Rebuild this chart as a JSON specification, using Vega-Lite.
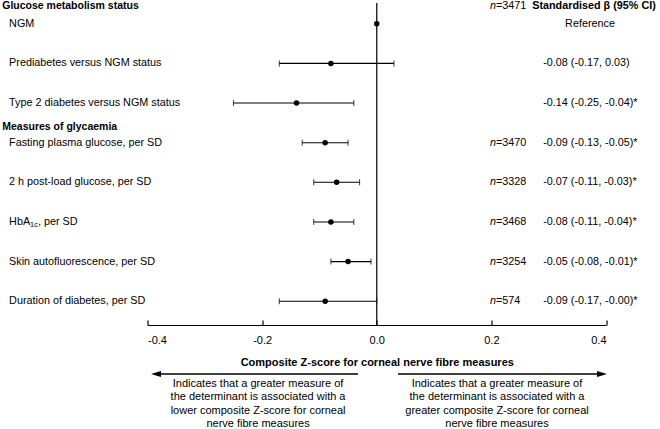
{
  "$schema": "https://vega.github.io/schema/vega-lite/v6.json",
  "width": 458.5,
  "height": 325,
  "autosize": {"type": "none"},
  "padding": {"left": 147.5, "top": 0, "right": 54, "bottom": 104},
  "background": "white",
  "config": {
    "view": {"stroke": null},
    "text": {"font": "Liberation Sans", "fontSize": 10.8, "color": "#000"}
  },
  "datasets": {
    "rows": [
      {"kind": "header", "row": 0.55, "label": "Glucose metabolism status", "n": "3471"},
      {"kind": "item", "row": 1, "label": "NGM", "beta": 0, "est": "Reference"},
      {"kind": "item", "row": 2, "label": "Prediabetes versus NGM status", "beta": -0.08, "lo": -0.17, "hi": 0.03, "est": "-0.08 (-0.17, 0.03)"},
      {"kind": "item", "row": 3, "label": "Type 2 diabetes versus NGM status", "beta": -0.14, "lo": -0.25, "hi": -0.04, "est": "-0.14 (-0.25, -0.04)*"},
      {"kind": "header", "row": 3.6, "label": "Measures of glycaemia"},
      {"kind": "item", "row": 4, "label": "Fasting plasma glucose, per SD", "beta": -0.09, "lo": -0.13, "hi": -0.05, "n": "3470", "est": "-0.09 (-0.13, -0.05)*"},
      {"kind": "item", "row": 5, "label": "2 h post-load glucose, per SD", "beta": -0.07, "lo": -0.11, "hi": -0.03, "n": "3328", "est": "-0.07 (-0.11, -0.03)*"},
      {"kind": "item", "row": 6, "label": "HbA", "sub": "1c", "suffix": ", per SD", "beta": -0.08, "lo": -0.11, "hi": -0.04, "n": "3468", "est": "-0.08 (-0.11, -0.04)*"},
      {"kind": "item", "row": 7, "label": "Skin autofluorescence, per SD", "beta": -0.05, "lo": -0.08, "hi": -0.01, "n": "3254", "est": "-0.05 (-0.08, -0.01)*"},
      {"kind": "item", "row": 8, "label": "Duration of diabetes, per SD", "beta": -0.09, "lo": -0.17, "hi": 0.0, "n": "574", "est": "-0.09 (-0.17, -0.00)*"}
    ]
  },
  "data": {"name": "rows"},
  "encoding": {
    "y": {"field": "row", "type": "quantitative", "scale": {"domain": [0.4, 8.6], "reverse": true, "nice": false, "zero": false}, "axis": null}
  },
  "layer": [
    {
      "transform": [{"filter": "isValid(datum.lo)"}],
      "mark": {"type": "errorbar", "color": "#000", "thickness": 1.1, "ticks": {"size": 6, "thickness": 1.1, "color": "#000"}},
      "encoding": {
        "x": {
          "field": "lo", "type": "quantitative",
          "scale": {"domain": [-0.4, 0.4], "nice": false, "zero": false},
          "axis": {
            "title": "Composite Z-score for corneal nerve fibre measures",
            "values": [-0.4, -0.2, 0, 0.2, 0.4],
            "labelExpr": "datum.value < 0 ? '-' + format(-datum.value, '.1f') : format(datum.value, '.1f')",
            "grid": false,
            "domainColor": "#000", "domainWidth": 1.2,
            "tickColor": "#000", "tickWidth": 1.2, "tickSize": -5,
            "labelPadding": 14, "labelFont": "Liberation Sans", "labelFontSize": 11, "labelColor": "#000",
            "titleFont": "Liberation Sans", "titleFontSize": 11, "titleFontWeight": "bold", "titleColor": "#000", "titlePadding": 11
          }
        },
        "x2": {"field": "hi"}
      }
    },
    {
      "transform": [{"filter": "datum.row == 1"}],
      "mark": {"type": "rule", "color": "#111", "strokeWidth": 1.3},
      "encoding": {"x": {"datum": 0}, "y": {"datum": 0.476}, "y2": {"datum": 8.6}}
    },
    {
      "transform": [{"filter": "isValid(datum.beta)"}],
      "mark": {"type": "point", "filled": true, "color": "#000", "opacity": 1, "size": 30},
      "encoding": {"x": {"field": "beta", "type": "quantitative"}}
    },
    {
      "transform": [{"filter": "datum.kind == 'header'"}],
      "mark": {"type": "text", "align": "left", "baseline": "middle", "fontWeight": "bold", "fontSize": 10.5},
      "encoding": {"x": {"datum": -0.6535}, "text": {"field": "label"}}
    },
    {
      "transform": [{"filter": "datum.kind == 'item'"}],
      "mark": {"type": "text", "align": "left", "baseline": "middle"},
      "encoding": {"x": {"datum": -0.6415}, "text": {"field": "label"}}
    },
    {
      "transform": [{"filter": "datum.sub"}],
      "mark": {"type": "text", "align": "left", "baseline": "middle", "fontSize": 7.4, "dx": 21.0, "dy": 3},
      "encoding": {"x": {"datum": -0.6415}, "text": {"field": "sub"}}
    },
    {
      "transform": [{"filter": "datum.suffix"}],
      "mark": {"type": "text", "align": "left", "baseline": "middle", "dx": 28.8},
      "encoding": {"x": {"datum": -0.6415}, "text": {"field": "suffix"}}
    },
    {
      "transform": [{"filter": "datum.n"}],
      "mark": {"type": "text", "align": "left", "baseline": "middle", "fontStyle": "italic", "text": "n"},
      "encoding": {"x": {"datum": 0.1976}}
    },
    {
      "transform": [{"filter": "datum.n"}],
      "mark": {"type": "text", "align": "left", "baseline": "middle", "text": "=", "dx": 6.0},
      "encoding": {"x": {"datum": 0.1976}}
    },
    {
      "transform": [{"filter": "datum.n"}],
      "mark": {"type": "text", "align": "left", "baseline": "middle", "dx": 12.3},
      "encoding": {"x": {"datum": 0.1976}, "text": {"field": "n"}}
    },
    {
      "transform": [{"filter": "datum.est && datum.est != 'Reference'"}],
      "mark": {"type": "text", "align": "left", "baseline": "middle"},
      "encoding": {"x": {"datum": 0.2905}, "text": {"field": "est"}}
    },
    {
      "transform": [{"filter": "datum.est == 'Reference'"}],
      "mark": {"type": "text", "align": "center", "baseline": "middle"},
      "encoding": {"x": {"datum": 0.3721}, "text": {"field": "est"}}
    },
    {
      "transform": [{"filter": "datum.row == 1"}],
      "mark": {"type": "text", "align": "center", "baseline": "middle", "fontWeight": "bold", "fontSize": 10.8, "text": "Standardised β (95% CI)"},
      "encoding": {"x": {"datum": 0.3791}, "y": {"datum": 0.55}}
    },
    {
      "transform": [{"filter": "datum.row == 1"}],
      "mark": {"type": "rule", "color": "#000", "strokeWidth": 1.3},
      "encoding": {"x": {"datum": -0.0327}, "x2": {"datum": -0.3852}, "y": {"datum": 9.836}}
    },
    {
      "transform": [{"filter": "datum.row == 1"}],
      "mark": {"type": "rule", "color": "#000", "strokeWidth": 1.3},
      "encoding": {"x": {"datum": 0.0371}, "x2": {"datum": 0.393}, "y": {"datum": 9.836}}
    },
    {
      "transform": [{"filter": "datum.row == 1"}],
      "mark": {"type": "point", "filled": true, "color": "#000", "opacity": 1, "size": 100, "strokeWidth": 0, "shape": "M -1 0 L 1 -0.6 L 1 0.6 Z"},
      "encoding": {"x": {"datum": -0.3852}, "y": {"datum": 9.836}}
    },
    {
      "transform": [{"filter": "datum.row == 1"}],
      "mark": {"type": "point", "filled": true, "color": "#000", "opacity": 1, "size": 100, "strokeWidth": 0, "shape": "M 1 0 L -1 -0.6 L -1 0.6 Z"},
      "encoding": {"x": {"datum": 0.393}, "y": {"datum": 9.836}}
    },
    {
      "transform": [{"filter": "datum.row == 1"}],
      "mark": {"type": "text", "align": "center", "baseline": "top", "fontSize": 11, "lineHeight": 13.2, "lineBreak": "\n", "text": "Indicates that a greater measure of\nthe determinant is associated with a\nlower composite Z-score for corneal\nnerve fibre measures"},
      "encoding": {"x": {"datum": -0.2071}, "y": {"datum": 9.94}}
    },
    {
      "transform": [{"filter": "datum.row == 1"}],
      "mark": {"type": "text", "align": "center", "baseline": "top", "fontSize": 11, "lineHeight": 13.2, "lineBreak": "\n", "text": "Indicates that a greater measure of\nthe determinant is associated with a\ngreater composite Z-score for corneal\nnerve fibre measures"},
      "encoding": {"x": {"datum": 0.2098}, "y": {"datum": 9.94}}
    }
  ]
}
